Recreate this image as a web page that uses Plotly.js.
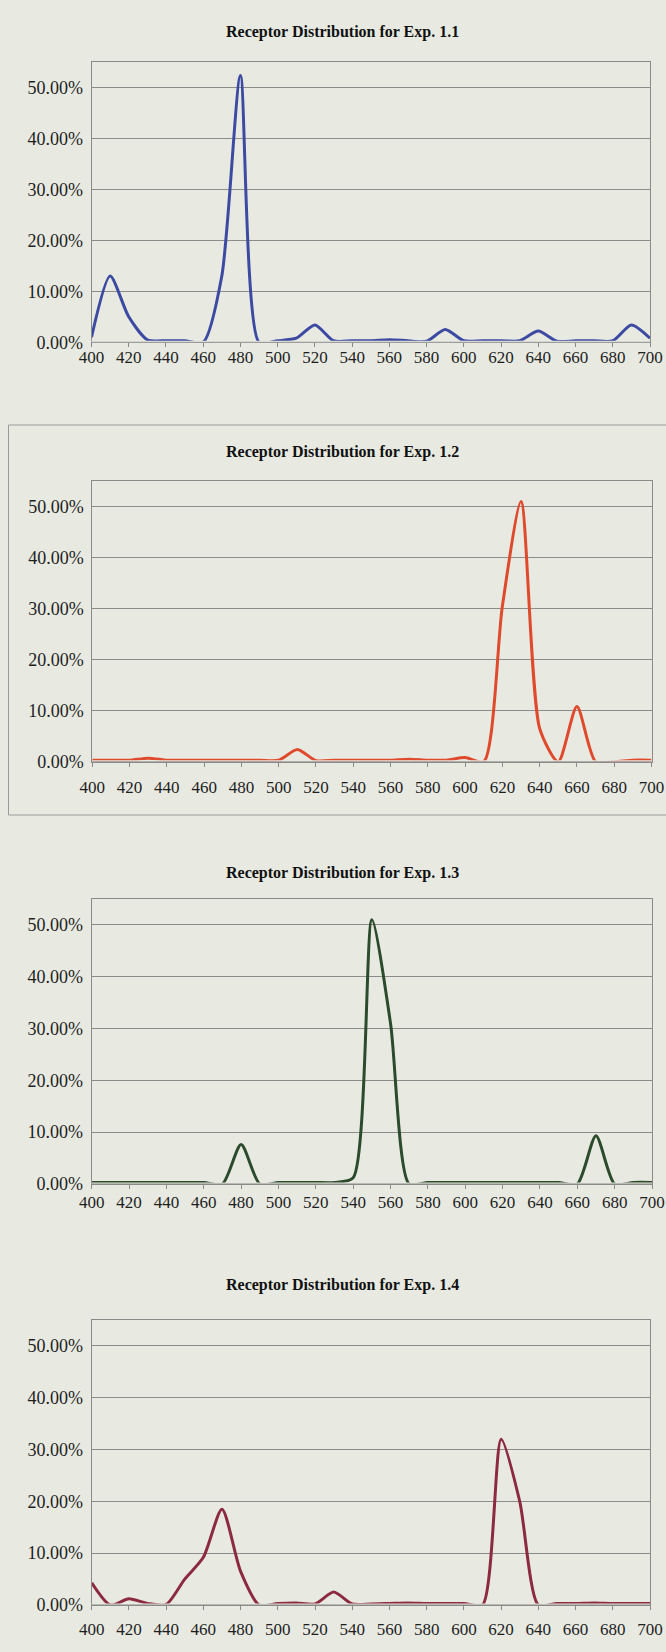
<!DOCTYPE html>
<html>
<head>
<meta charset="utf-8">
<script src="https://cdn.plot.ly/plotly-3.0.1.min.js"></script>
<style>
html,body{margin:0;padding:0;background:#e8eae2;}
#chart{width:666px;height:1652px;}
</style>
</head>
<body>
<div id="chart"></div>
<script>
// Wavelength categories (nm)
const wavelengths = [400,410,420,430,440,450,460,470,480,490,500,510,520,530,540,550,560,570,580,590,600,610,620,630,640,650,660,670,680,690,700];
const xTickLabels = [400,420,440,460,480,500,520,540,560,580,600,620,640,660,680,700];
const yTickValues = [0,0.1,0.2,0.3,0.4,0.5];

// Share of receptors at each wavelength
const exp11 = [0.010,0.130,0.050,0.005,0.003,0.003,0,0.130,0.523,0,0.003,0.008,0.034,0.003,0.003,0.003,0.005,0.003,0.002,0.025,0.003,0.003,0.003,0.003,0.022,0.002,0.003,0.003,0.003,0.034,0.008];
const exp12 = [0.003,0.003,0.003,0.007,0.003,0.003,0.003,0.003,0.003,0.003,0.003,0.024,0.002,0.003,0.003,0.003,0.003,0.005,0.003,0.003,0.008,0,0.305,0.510,0.065,0,0.108,0,0,0.003,0.003];
const exp13 = [0.003,0.003,0.003,0.003,0.003,0.003,0.003,0,0.076,0,0.003,0.003,0.003,0.003,0.012,0.510,0.310,0,0.003,0.003,0.003,0.003,0.003,0.003,0.003,0.003,0,0.093,0,0.003,0.003];
const exp14 = [0.043,0,0.012,0.003,0.001,0.050,0.092,0.185,0.065,0,0.003,0.004,0.002,0.025,0.002,0.002,0.003,0.004,0.003,0.003,0.003,0,0.320,0.200,0,0.003,0.003,0.004,0.003,0.003,0.003];

const titles = ["Receptor Distribution for Exp. 1.1","Receptor Distribution for Exp. 1.2","Receptor Distribution for Exp. 1.3","Receptor Distribution for Exp. 1.4"];
const seriesList = [exp11, exp12, exp13, exp14];
const colors = ["#3c4aa2","#e04a2c","#2c4a2c","#8c2a40"];

const W = 666, H = 1652;
const BG = "#e8eae2";
const py = y => 1 - y / H;
const pxx = x => x / W;

// plot-area geometry in page pixels [left, right, top, bottom]
const boxes = [
  [91.5, 650, 61.7, 342.3],
  [92.3, 651.5, 481, 761.7],
  [91.7, 652, 899, 1184],
  [91.7, 650, 1320, 1605]
];
const titleY = [31.7, 451.7, 873.3, 1285];
const xStandoff = [-5, 6, -1, 5];

const tickFont = {family: "Liberation Serif, Times New Roman, serif", size: 17, color: "#1e1e1e"};
const yTickFont = {family: "Liberation Serif, Times New Roman, serif", size: 18, color: "#1e1e1e"};
const lineCol = "#8a8a8a";

const data = [];
const layout = {
  width: W, height: H,
  margin: {l:0, r:0, t:0, b:0},
  paper_bgcolor: BG,
  plot_bgcolor: BG,
  showlegend: false,
  annotations: [],
  shapes: []
};

seriesList.forEach((s, i) => {
  const n = i === 0 ? "" : String(i + 1);
  data.push({
    type: "scatter", mode: "lines",
    x: wavelengths, y: s,
    xaxis: "x" + n, yaxis: "y" + n,
    line: {color: colors[i], width: 3, shape: "spline", smoothing: 0.7},
    hoverinfo: "skip"
  });
  const b = boxes[i];
  layout["xaxis" + n] = {
    domain: [pxx(b[0]), pxx(b[1])],
    anchor: "y" + n,
    range: [400, 700],
    tickmode: "array", tickvals: xTickLabels, ticktext: xTickLabels.map(String),
    showline: true, mirror: true, linecolor: lineCol, linewidth: 1,
    ticks: "outside", ticklen: 4, tickcolor: lineCol,
    ticklabelstandoff: xStandoff[i],
    showgrid: false, zeroline: false,
    tickfont: tickFont, fixedrange: true
  };
  layout["yaxis" + n] = {
    domain: [py(b[3]), py(b[2])],
    anchor: "x" + n,
    range: [0, 0.55],
    tickmode: "array", tickvals: yTickValues,
    tickformat: ".2%",
    showline: true, mirror: true, linecolor: lineCol, linewidth: 1,
    ticks: "", ticklabelstandoff: 4,
    showgrid: true, gridcolor: "#8c8c8c", gridwidth: 1,
    zeroline: false,
    tickfont: yTickFont, fixedrange: true
  };
  // the category axis is drawn over the series, hiding zero-level stretches
  layout.shapes.push({
    type: "line", xref: "x" + n + " domain", yref: "y" + n,
    x0: 0, x1: 1, y0: 0, y1: 0, layer: "above",
    line: {color: BG, width: 3}
  });
  layout.shapes.push({
    type: "line", xref: "x" + n + " domain", yref: "y" + n,
    x0: 0, x1: 1, y0: 0, y1: 0, layer: "above",
    line: {color: lineCol, width: 1}
  });
  layout.annotations.push({
    text: "<b>" + titles[i] + "</b>",
    xref: "paper", yref: "paper",
    x: 342 / W, y: py(titleY[i]),
    xanchor: "center", yanchor: "middle",
    showarrow: false,
    font: {family: "Liberation Serif, Times New Roman, serif", size: 16, color: "#111"}
  });
});

// chart-area border of the second chart
layout.shapes.push({
  type: "rect", xref: "paper", yref: "paper",
  x0: pxx(8.5), x1: 1.01, y0: py(815), y1: py(425),
  line: {color: "#9a9a9a", width: 1}, fillcolor: "rgba(0,0,0,0)"
});

Plotly.newPlot("chart", data, layout, {staticPlot: true, displayModeBar: false});
</script>
</body>
</html>
